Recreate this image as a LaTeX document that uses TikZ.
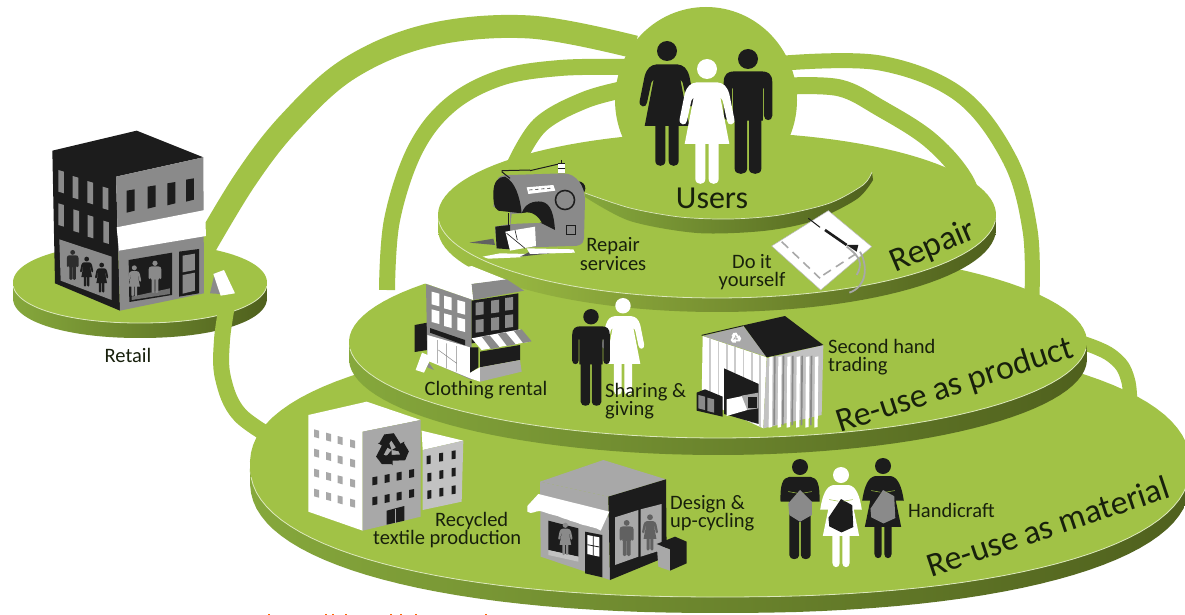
\documentclass[tikz,border=0pt]{standalone}
\usepackage{fontspec}
\setmainfont{Carlito}
\definecolor{gr}{HTML}{A1C246}
\definecolor{bl}{HTML}{86A83C}
\definecolor{bm}{HTML}{6E8A2C}
\definecolor{bd}{HTML}{4F601D}
\definecolor{hl}{HTML}{DCE8BC}
\definecolor{ink}{HTML}{1C1C1C}
\definecolor{gy}{HTML}{8A8A8A}
\definecolor{lg}{HTML}{A8A8A8}
\definecolor{txt}{HTML}{18200C}
\tikzset{
  rope/.style={draw=gr,line cap=butt,line join=round},
  lab/.style={text=txt,font=\fontsize{20.5}{18.5}\selectfont,inner sep=0pt,align=left},
  labc/.style={lab,align=center},
  big/.style={text=txt,font=\fontsize{34}{34}\selectfont,inner sep=0pt},
  declare function={sp(\t,\e)=sign(\t)*abs(\t)^\e;}
}
% disc: cx cy a b t exponent(2/n) : left/mid/right band colours
\newcommand{\discband}[9]{%
  \shade[left color=#7,middle color=#8,right color=#9]
    plot[domain=1:179,samples=60] ({#1+#3*sp(cos(\x),#6)},{#2+#5+#4*sp(sin(\x),#6)})
    -- plot[domain=179:1,samples=60] ({#1+#3*sp(cos(\x),#6)},{#2+#4*sp(sin(\x),#6)}) -- cycle;
  \fill[gr] plot[domain=1:361,samples=121] ({#1+#3*sp(cos(\x),#6)},{#2+#4*sp(sin(\x),#6)}) -- cycle;
  \draw[hl,line width=.8pt] plot[domain=4:176,samples=58] ({#1+#3*sp(cos(\x),#6)},{#2+#4*sp(sin(\x),#6)});
}
% people: local units, head top at y=0, centre x=0, height 375
\newcommand{\manfig}[4]{\begin{scope}[shift={(#1,#2)},scale=#3]
  \fill[#4] (0,30) circle (30);
  \fill[#4] (-73,100) .. controls (-73,75) and (-60,67) .. (-40,67) -- (40,67) .. controls (60,67) and (73,75) .. (73,100)
   -- (73,200) .. controls (73,218) and (48,218) .. (48,200) -- (48,118) -- (45,118) -- (45,215) -- (40,215) -- (40,360)
   .. controls (40,380) and (3,380) .. (3,360) -- (3,215) -- (-3,215) -- (-3,360) .. controls (-3,380) and (-40,380) .. (-40,360)
   -- (-40,215) -- (-45,215) -- (-45,118) -- (-48,118) -- (-48,200) .. controls (-48,218) and (-73,218) .. (-73,200) -- cycle;
\end{scope}}
\newcommand{\womanfig}[4]{\begin{scope}[shift={(#1,#2)},scale=#3]
  \fill[#4] (0,30) circle (30);
  \fill[#4] (-30,70) -- (30,70) .. controls (50,72) and (60,82) .. (67,105) -- (82,180) .. controls (85,200) and (62,202) .. (60,185)
   -- (47,125) -- (40,115) -- (67,255) -- (35,255) -- (35,360) .. controls (35,380) and (5,380) .. (5,360) -- (5,255) -- (-5,255)
   -- (-5,360) .. controls (-5,380) and (-35,380) .. (-35,360) -- (-35,255) -- (-67,255) -- (-40,115) -- (-47,125) -- (-60,185)
   .. controls (-62,202) and (-85,200) .. (-82,180) -- (-67,105) .. controls (-60,82) and (-50,72) .. (-30,70) -- cycle;
\end{scope}}
\newcommand{\knitneedle}{\draw[gr,line width=.5pt] (-44,122) -- (-10,128) (44,122) -- (10,128);}
\newcommand{\knitman}[5]{\begin{scope}[shift={(#1,#2)},scale=#3]
  \fill[#4] (0,30) circle (30);
  \fill[#4] (-40,67) -- (40,67) .. controls (65,70) and (75,95) .. (73,160) -- (40,160) -- (40,360) .. controls (40,380) and (3,380) .. (3,360)
   -- (3,235) -- (-3,235) -- (-3,360) .. controls (-3,380) and (-40,380) .. (-40,360) -- (-40,160) -- (-73,160) .. controls (-75,95) and (-65,70) .. (-40,67) -- cycle;
  \fill[#5] (0,116) -- (-44,166) -- (-40,210) -- (0,235) -- (44,210) -- (44,160) -- cycle;
  \knitneedle
\end{scope}}
\newcommand{\knitwoman}[5]{\begin{scope}[shift={(#1,#2)},scale=#3]
  \fill[#4] (0,30) circle (30);
  \fill[#4] (-30,68) -- (30,68) .. controls (55,72) and (70,105) .. (78,160) -- (48,160) -- (68,258) -- (32,258) -- (32,360) .. controls (32,380) and (5,380) .. (5,360)
   -- (5,258) -- (-5,258) -- (-5,360) .. controls (-5,380) and (-32,380) .. (-32,360) -- (-32,258) -- (-68,258) -- (-48,160) -- (-78,160)
   .. controls (-70,105) and (-55,72) .. (-30,68) -- cycle;
  \fill[#5] (0,120) -- (-47,190) -- (-44,222) -- (2,245) -- (46,225) -- (42,143) -- cycle;
  \knitneedle
\end{scope}}
% recycling mark, radius 1
\newcommand{\recyc}[4]{\begin{scope}[shift={(#1,#2)},scale=#3]
  \foreach \a in {0,120,240}{\fill[#4,rotate=\a] (-.42,-.88) -- (.12,-.95) -- (.50,-.35) -- (.72,-.48) -- (.58,.10) -- (.02,.0) -- (.24,-.14) -- (-.02,-.55) -- (-.30,-.12) -- (-.68,-.42) -- cycle;}
\end{scope}}
\begin{document}
\begin{tikzpicture}[x=1pt,y=-1pt]
\useasboundingbox (0,0) rectangle (1185,615);
\clip (0,0) rectangle (1185,615);
\fill[white] (0,0) rectangle (1185,615);
% cut-off marks at the foot
\foreach \q in {268,325,332,345,390,400,415,485}{\fill[orange!80!red] (\q,613.5) rectangle ++(2,1.5);}
% ropes
\draw[rope,line width=23pt] plot[smooth,tension=.6] coordinates {(200,255) (245,180) (290,122) (350,68) (430,35) (530,27) (635,47)};
\draw[rope,line width=16pt] plot[smooth,tension=.6] coordinates {(387,290) (392,220) (415,150) (450,105) (500,78) (560,68) (625,67)};
\draw[rope,line width=17pt] plot[smooth,tension=.6] coordinates {(515,165) (540,125) (585,100) (630,88)};
\draw[rope,line width=15pt] plot[smooth,tension=.6] coordinates {(785,63) (880,63) (960,95) (1010,160) (1030,230) (1032,295)};
\draw[rope,line width=17pt] plot[smooth,tension=.6] coordinates {(790,86) (840,88) (880,108) (930,140) (965,180) (980,225)};
\draw[rope,line width=14pt] plot[smooth,tension=.7] coordinates {(1080,342) (1112,356) (1128,380) (1130,420)};
% discs
\discband{720}{465}{470}{132}{16}{.9}{bl}{bd}{bd}
\discband{140}{283}{127}{40}{15}{.95}{bl}{bd}{bd}
\draw[rope,line width=16pt] plot[smooth,tension=.6] coordinates {(228,300) (222,340) (223,378) (240,415) (285,445)};
\discband{718}{342}{369}{96}{17}{1}{bl}{bd}{bd}
\discband{717}{215}{279}{83}{14}{1}{gr}{bm}{bd}
% users disc rim
\shade[left color=bl,middle color=bd,right color=bd] plot[smooth] coordinates {(585,193) (630,208) (680,217) (730,219) (780,215) (830,203) (863,185) (872,172)}
 -- plot[smooth] coordinates {(873,180) (857,199) (813,221) (763,231) (697,233) (630,221) (585,197)} -- cycle;
\draw[hl,line width=.7pt] plot[smooth] coordinates {(585,193) (630,208) (680,217) (730,219) (780,215) (830,203) (863,185) (872,172)};
\fill[gr] (706,100) ellipse (91 and 93);
% users people
\womanfig{667}{41}{.333}{ink}
\manfig{748}{49}{.333}{ink}
\womanfig{707}{59}{.333}{white}

% retail building
\begin{scope}[shift={(0,120)},scale=1/3]
 \fill[ink] (157,92) -- (410,32) -- (610,112) -- (348,170) -- (360,572) -- (165,490) -- cycle;
 \fill[gy] (348,170) -- (610,112) -- (612,520) -- (360,572) -- cycle;
 \foreach \a/\b in {175/150,218/168,262/183,308/200,175/250,220/268,263/285,310/302}
   \fill[gy] (\a,\b) -- ++(17,5) -- ++(0,65) -- ++(-17,-5) -- cycle;
 \foreach \a/\b in {380/212,443/200,502/190,558/179}
   \fill[ink] (\a,\b) -- ++(24,-4) -- ++(0,64) -- ++(-24,6) -- cycle;
 \fill[white] (350,322) -- (615,270) -- (618,348) -- (357,392) -- cycle;
 \fill[gy] (178,358) -- (335,410) -- (335,540) -- (182,482) -- cycle;
 \manfig{218}{390}{.24}{ink!85!gy}
 \womanfig{260}{410}{.24}{ink}
 \womanfig{305}{428}{.24}{ink}
 \fill[ink] (386,420) -- (516,398) -- (516,525) -- (388,546) -- cycle;
 \fill[gy!80!black] (395,530) -- (510,505) -- (510,522) -- (395,540) -- cycle;
 \womanfig{403}{436}{.25}{gy}
 \manfig{465}{422}{.26}{gy}
 \fill[ink] (537,395) -- (597,387) -- (597,520) -- (537,530) -- cycle;
 \fill[gy] (548,407) -- (585,401) -- (585,450) -- (548,457) -- cycle (548,465) -- (585,458) -- (585,512) -- (548,521) -- cycle;
 \fill[gy] (630,520) -- (645,455) -- (662,522) -- cycle;
 \fill[white] (640,462) -- (672,450) -- (705,520) -- (662,527) -- cycle;
\end{scope}

% sewing machine and cloth (zoom frame)
\begin{scope}[shift={(430,0)},scale=1/3]
 \fill[gy!70!black] (118,728) -- (190,716) -- (195,735) -- cycle;
 \fill[white] (158,770) -- (210,760) -- (295,762) -- (270,772) -- (175,776) -- cycle;
 \fill[gy!60!black] (270,770) -- (300,755) -- (360,760) -- cycle;
 \fill[white] (290,745) -- (430,748) -- (435,758) -- (300,762) -- cycle;
 \fill[ink] (445,565) circle (21);
 \fill[gy] (200,545) .. controls (205,525) and (220,525) .. (240,525) -- (400,520) .. controls (440,520) and (465,560) .. (465,600) -- (462,715)
   .. controls (460,735) and (445,738) .. (430,738) -- (200,745) -- (195,680) -- (240,672) -- (240,635) -- (190,620) -- cycle;
 \fill[ink] (190,580) .. controls (190,545) and (205,530) .. (225,530) .. controls (255,545) and (270,590) .. (275,640) -- (205,632) .. controls (190,625) and (190,600) .. (190,580) -- cycle;
 \fill[ink] (275,640) .. controls (285,610) and (310,602) .. (335,605) .. controls (365,610) and (372,650) .. (375,690) -- (335,670) -- cycle;
 \fill[gr] (245,642) -- (275,640) .. controls (295,632) and (320,640) .. (335,668) -- (242,672) -- cycle;
 \fill[ink] (405,600) circle (31);
 \fill[gy] (405,600) circle (26);
 \fill[white] (290,562) -- (370,555) -- (376,572) -- (295,582) -- cycle;
 \draw[ink,line width=.6pt,dashed] (298,570) -- (368,564);
 \draw[ink,line width=.8pt] (410,675) rectangle (435,702);
 \fill[ink] (196,680) -- (240,675) -- (240,748) -- (200,745) -- cycle;
 \fill[white] (226,695) -- (315,680) -- (318,738) -- (240,752) -- cycle;
 \draw[ink,line width=.6pt] (230,700) -- (285,745) (255,690) -- (262,720);
 \draw[ink,line width=1.2pt] (235,640) -- (235,690);
 \draw[ink,line width=1pt] (215,515) -- (240,535) (215,512) -- (300,510) (300,512) -- (395,490);
 \fill[white] (385,490) rectangle (405,520);
 \draw[ink,line width=.8pt] (385,490) -- (405,490) (385,505) -- (405,505) (394,480) -- (394,490);
 % cloth
 \fill[white,draw=gy!60!white,line width=.5pt] (1025,738) -- (1195,632) -- (1325,740) -- (1172,870) -- cycle;
 \draw[lg,line width=1.6pt,dash pattern=on 9pt off 6pt] (1055,725) -- (1170,835) (1180,825) -- (1280,760);
 \draw[ink,line width=1pt] (1135,655) -- (1170,682);
 \draw[ink,line width=2.6pt] (1185,690) -- (1250,735);
 \fill[ink] (1250,735) -- (1285,735) -- (1280,755) -- cycle;
 \draw[lg,line width=1.8pt] (1250,740) .. controls (1290,770) and (1300,790) .. (1280,825) (1290,755) .. controls (1315,800) and (1310,860) .. (1258,878);
\end{scope}

% clothing rental and warehouse
\begin{scope}[shift={(350,260)},scale=1/3]
 \fill[ink] (194,195) -- (232,188) -- (232,270) -- (194,276) -- cycle;
 \fill[gy] (228,72) -- (365,118) -- (365,360) -- (232,300) -- cycle;
 \fill[white] (220,68) -- (290,35) -- (365,18) -- (470,60) -- (365,72) -- (370,120) -- cycle;
 \fill[gy] (365,72) -- (470,58) -- (522,92) -- (370,120) -- cycle;
 \foreach \a/\b in {245/95,282/107,322/120,245/148,282/160,322/172}
   \fill[white] (\a,\b) -- ++(23,6) -- ++(0,38) -- ++(-23,-6) -- cycle;
 \fill[ink] (365,122) -- (505,100) -- (505,232) -- (365,250) -- cycle;
 \foreach \a/\b in {377/128,423/122,465/114,377/180,423/174,465/166}
   \fill[gy] (\a,\b) -- ++(24,-3) -- ++(0,38) -- ++(-24,3) -- cycle;
 \fill[ink] (240,204) -- (345,240) -- (345,256) -- (240,218) -- cycle;
 \fill[white] (232,225) -- (360,262) -- (360,338) -- (390,322) -- (390,365) -- (360,355) -- (232,302) -- cycle;
 \draw[gy,line width=.5pt] (262,240) -- (262,310) (290,250) -- (290,325) (320,258) -- (320,335) (265,270) -- (320,310);
 \fill[ink] (360,262) -- (385,262) -- (385,322) -- (360,338) -- cycle;
 \fill[white] (365,235) -- (510,208) -- (540,245) -- (395,270) -- cycle;
 \foreach \a in {0,1,2}{\fill[gy] (395+\a*48,230-\a*9) -- ++(24,-4) -- ++(30,36) -- ++(-26,5) -- cycle;}
 \fill[ink] (390,275) -- (510,255) -- (510,300) -- (390,322) -- cycle;
 \fill[lg] (390,322) -- (510,300) -- (515,335) -- (390,365) -- cycle;
 \fill[gy] (232,302) -- (252,330) -- (232,322) -- cycle;
 \fill[white] (197,330) -- (216,278) -- (245,290) -- (222,338) -- cycle;
 % warehouse
 \begin{scope}
  \clip (1058,228) -- (1250,292) -- (1240,505) -- (1055,420) -- cycle;
  \fill[white] (1050,220) rectangle (1260,510);
  \foreach \a in {1078,1103,1128,1153,1178,1203,1228}{\fill[lg!60!white] (\a,220) rectangle ++(5,290);}
 \end{scope}
 \fill[lg] (1060,228) -- (1180,198) -- (1250,290) -- cycle;
 \fill[lg!70!white] (1250,295) -- (1420,255) -- (1415,465) -- (1240,505) -- cycle;
 \foreach \a in {1258,1285,1312,1340,1368,1395}{\fill[white] (\a,291) -- ++(10,-2) -- ++(-2,212) -- ++(-10,2) -- cycle;}
 \foreach \a in {1272,1298,1326,1354,1382}{\fill[gy] (\a,288) -- ++(5,-1) -- ++(-2,208) -- ++(-5,1) -- cycle;}
 \fill[ink] (1180,196) -- (1305,168) -- (1420,255) -- (1250,292) -- cycle;
 \draw[ink,line width=.9pt] (1055,226) -- (1180,197);
 \recyc{1157}{234}{17}{white}
 \fill[ink] (1122,325) -- (1226,372) -- (1226,492) -- (1122,462) -- cycle;
 \fill[white] (1130,418) -- (1192,405) -- (1192,450) -- (1130,468) -- cycle;
 \fill[lg] (1175,407) -- (1225,398) -- (1225,445) -- (1192,450) -- cycle;
 \fill[ink] (1195,410) rectangle (1222,445);
 \fill[ink] (1040,398) -- (1065,388) -- (1118,410) -- (1118,470) -- (1040,452) -- cycle;
 \fill[gy] (1045,405) -- (1065,410) -- (1065,450) -- (1045,445) -- cycle (1072,413) -- (1092,418) -- (1092,458) -- (1072,453) -- cycle;
\end{scope}

% factory and shop
\begin{scope}[shift={(290,400)},scale=1/3]
 \fill[white] (395,92) -- (520,122) -- (398,150) -- cycle;
 \fill[lg!70!white] (398,150) -- (520,122) -- (515,305) -- (398,330) -- cycle;
 \foreach \a/\b in {410/168,447/160,485/153,412/220,448/212,485/205,412/272,448/265,485/258}
   \fill[ink] (\a,\b) -- ++(12,-2) -- ++(0,25) -- ++(-12,2) -- cycle;
 \fill[white] (55,45) -- (230,5) -- (392,60) -- (218,95) -- (218,392) -- (55,335) -- cycle;
 \fill[lg] (218,95) -- (392,60) -- (392,350) -- (218,392) -- cycle;
 \foreach \r in {0,58,118,178}\foreach \a/\b in {72/88,108/98,143/108,180/118}
   \fill[lg] (\a,\b+\r) -- ++(15,4) -- ++(0,23) -- ++(-15,-4) -- cycle;
 \foreach \r in {0,60}\foreach \a/\b in {247/232,284/225,320/218,357/210}
   \fill[ink] (\a,\b+\r) -- ++(15,-3) -- ++(0,24) -- ++(-15,3) -- cycle;
 \recyc{305}{150}{53}{ink}
 \fill[ink] (290,332) -- (343,318) -- (343,362) -- (290,374) -- cycle;
 \draw[lg,line width=.6pt] (316,326) -- (316,368);
 % shop
 \fill[lg] (750,245) -- (940,180) -- (1128,238) -- (955,290) -- cycle;
 \fill[lg] (750,245) -- (955,290) -- (960,540) -- (752,470) -- cycle;
 \fill[ink] (955,290) -- (1128,238) -- (1130,470) -- (960,540) -- cycle;
 \fill[ink] (775,362) -- (865,385) -- (865,470) -- (775,450) -- cycle;
 \fill[lg!70!white] (775,450) -- (865,470) -- (865,485) -- (775,465) -- cycle;
 \womanfig{826}{368}{.26}{gy}
 \fill[ink] (885,395) -- (937,405) -- (937,532) -- (885,520) -- cycle;
 \fill[white] (892,405) -- (928,412) -- (928,470) -- (892,462) -- cycle;
 \draw[ink,line width=.8pt] (910,408) -- (910,466) (892,434) -- (928,441);
 \fill[white] (712,318) -- (745,282) -- (958,335) -- (932,392) .. controls (925,385) and (915,385) .. (908,382) .. controls (895,380) and (890,375) .. (880,375)
   .. controls (865,372) and (860,365) .. (850,365) .. controls (835,362) and (830,355) .. (820,355) .. controls (805,350) and (800,345) .. (790,345) .. controls (770,340) and (760,335) .. (750,333) .. controls (735,332) and (725,345) .. (712,335) -- cycle;
 \fill[lg] (975,352) -- (1045,330) -- (1045,470) -- (975,495) -- cycle (1052,328) -- (1115,312) -- (1115,450) -- (1052,470) -- cycle;
 \manfig{1010}{360}{.29}{gy!70!black}
 \womanfig{1080}{343}{.29}{gy!70!black}
 \fill[lg] (1100,432) -- (1140,448) -- (1140,512) -- (1105,500) -- cycle;
 \fill[ink] (1100,432) -- (1155,410) -- (1190,425) -- (1190,490) -- (1140,512) -- (1140,448) -- cycle;
\end{scope}

% handicraft people
\knitman{800}{459}{.267}{ink}{gy}
\knitwoman{841}{467}{.267}{white}{ink}
\knitwoman{883}{458}{.267}{ink}{gy}
% sharing people
\womanfig{623}{298}{.258}{white}
\manfig{591}{309}{.258}{ink}

% labels
\node[labc] (retail) at (128,355) {Retail};
\node[big,font=\fontsize{32}{32}\selectfont] (users) at (712,198) {Users};
\node[labc] (repairs) at (613,254) {Repair\\services};
\node[labc] (diy) at (752,272) {Do it\\yourself};
\node[labc] (rental) at (486,390) {Clothing rental};
\node[lab,anchor=west] (sharing) at (605,401) {Sharing \&\\giving};
\node[lab,anchor=west] (second) at (828,357) {Second hand\\trading};
\node[lab,anchor=west] (recycled) at (373,530) {\hspace{62pt}Recycled\\textile production};
\node[lab,anchor=west] (design) at (670,513) {Design \&\\up-cycling};
\node[lab,anchor=west] (hand) at (908,510) {Handicraft};
\node[big,rotate=23] (repair) at (933,247) {Repair};
\node[big,rotate=18] (reprod) at (955,386) {Re-use as product};
\node[big,rotate=18.5] (remat) at (1048,526) {Re-use as material};
\end{tikzpicture}
\end{document}
